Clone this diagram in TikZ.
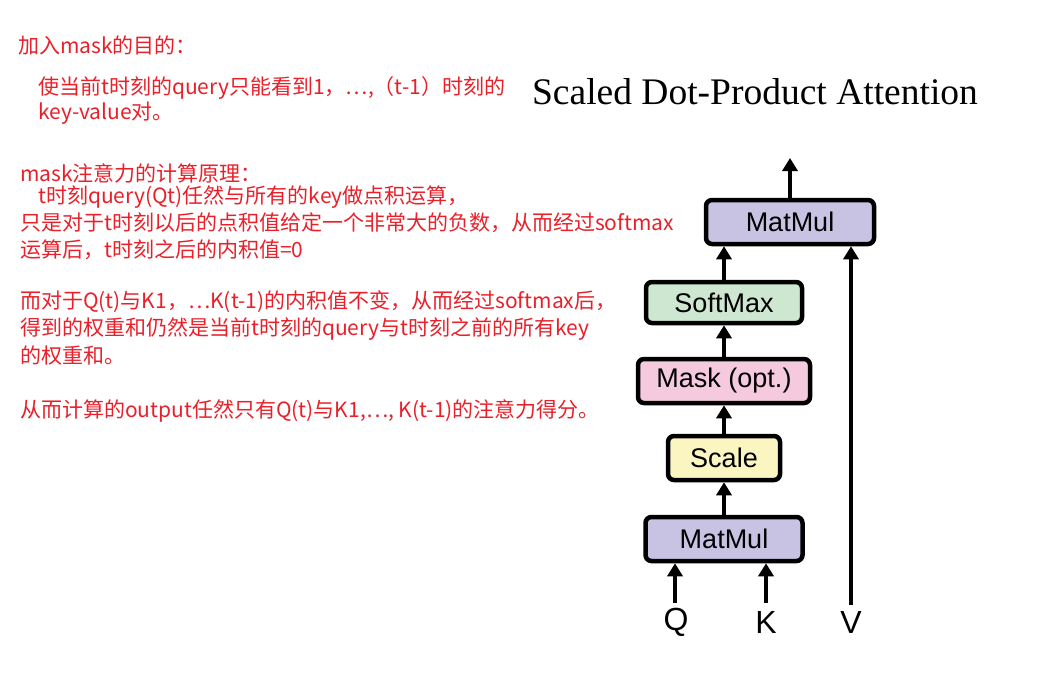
\documentclass[tikz,border=0pt]{standalone}
\usepackage{fontspec}
\setmainfont{Liberation Serif}
\newfontfamily\boxfont{Liberation Sans}
\newfontfamily\cjk{Noto Sans CJK SC}
\usetikzlibrary{arrows.meta}
\definecolor{redtxt}{HTML}{E8202A}
\definecolor{matmulc}{HTML}{C8C3E3}
\definecolor{softc}{HTML}{CEE7D1}
\definecolor{maskc}{HTML}{F5CADE}
\definecolor{scalec}{HTML}{FBF5C2}
\tikzset{
  note/.style={anchor=west, inner sep=0pt, text=redtxt, font=\cjk\fontsize{21}{24}\selectfont},
  blk/.style={draw=black, line width=4.5pt, rounded corners=6pt, inner sep=0pt, font=\boxfont\fontsize{27}{30}\selectfont},
  io/.style={inner sep=0pt, font=\boxfont\fontsize{32}{35}\selectfont},
  arr/.style={line width=4pt, -{Triangle[length=13pt,width=15pt]}},
}
\begin{document}
\begin{tikzpicture}[x=1pt,y=-1pt]
\path[use as bounding box] (0,0) rectangle (1058,694);
% notes
\node[note] (n1) at (18,45) {加入mask的目的：};
\node[note] (n2) at (38,88) {使当前t时刻的query只能看到1，…,（t-1）时刻的};
\node[note] (n3) at (38,113) {key-value对。};
\node[note] (n4) at (20,173) {mask注意力的计算原理：};
\node[note] (n5) at (38,197) {t时刻query(Qt)任然与所有的key做点积运算，};
\node[note] (n6) at (20,223) {只是对于t时刻以后的点积值给定一个非常大的负数，从而经过softmax};
\node[note] (n7) at (20,250) {运算后，t时刻之后的内积值=0};
\node[note] (n8) at (20,302) {而对于Q(t)与K1，…K(t-1)的内积值不变，从而经过softmax后，};
\node[note] (n9) at (20,329) {得到的权重和仍然是当前t时刻的query与t时刻之前的所有key};
\node[note] (n10) at (20,356) {的权重和。};
\node[note] (n11) at (20,411) {从而计算的output任然只有Q(t)与K1,…, K(t-1)的注意力得分。};
% title
\node[inner sep=0pt, font=\fontsize{37.5}{40}\selectfont] (title) at (755,92) {Scaled Dot-Product Attention};
% blocks
\node[blk, fill=matmulc, minimum width=168pt, minimum height=44pt] (mm2) at (790,222) {MatMul};
\node[blk, fill=softc, minimum width=156pt, minimum height=41pt] (sm) at (724,302.5) {SoftMax};
\node[blk, fill=maskc, minimum width=172pt, minimum height=44pt] (mask) at (724,381) {Mask (opt.)};
\node[blk, fill=scalec, minimum width=112pt, minimum height=44pt] (scale) at (724,458) {Scale};
\node[blk, fill=matmulc, minimum width=157pt, minimum height=44pt] (mm1) at (724,539) {MatMul};
% inputs
\node[io] (q) at (676,622) {Q};
\node[io] (k) at (766,622) {K};
\node[io] (v) at (851,622) {V};
\coordinate (qs) at (675,603);
\coordinate (ks) at (766,603);
\coordinate (vs) at (851,605);
\coordinate (out) at (790,158);
% arrows
\draw[arr] (qs) -- (qs |- mm1.south);
\draw[arr] (ks) -- (ks |- mm1.south);
\draw[arr] (mm1.north) -- (scale.south);
\draw[arr] (scale.north) -- (mask.south);
\draw[arr] (mask.north) -- (sm.south);
\draw[arr] (sm.north) -- (sm.north |- mm2.south);
\draw[arr] (vs) -- (vs |- mm2.south);
\draw[arr] (mm2.north) -- (out);
\end{tikzpicture}
\end{document}
